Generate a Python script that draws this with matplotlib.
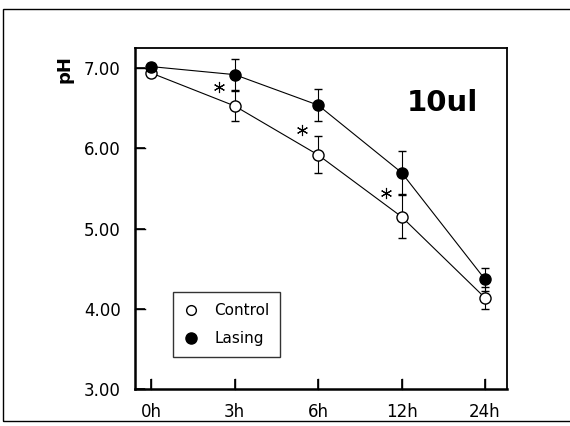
import matplotlib
matplotlib.use("Agg")
import matplotlib.pyplot as plt
from matplotlib.patches import Rectangle
from matplotlib.lines import Line2D
import numpy as np

# data
times = ["0h", "3h", "6h", "12h", "24h"]
control = [6.94, 6.53, 5.92, 5.15, 4.14]
control_err = [0.05, 0.19, 0.23, 0.27, 0.14]
lasing = [7.02, 6.92, 6.54, 5.70, 4.37]
lasing_err = [0.04, 0.19, 0.20, 0.27, 0.14]
star_pos = [0.81, 1.81, 2.81]
star_y = [6.76, 6.23, 5.45]
ph_ticks = [3, 4, 5, 6, 7]
ph_labels = ["3.00", "4.00", "5.00", "6.00", "7.00"]

plt.rcParams['font.family'] = ['DejaVu Sans']

fig = plt.figure(figsize=(5.7, 4.26), dpi=100)
ax = fig.add_axes([0.236, 0.086, 0.653, 0.801])

x = np.arange(len(times))

ax.errorbar(x, control, yerr=control_err, color='black', lw=0.8, capsize=3,
            elinewidth=0.8, marker='o', ms=8, mfc='white', mec='black',
            mew=1.0, zorder=3)
ax.errorbar(x, lasing, yerr=lasing_err, color='black', lw=0.8, capsize=3,
            elinewidth=0.8, marker='o', ms=8, mfc='black', mec='black',
            zorder=3)

# significance marks (6-armed asterisks)
ax.plot(star_pos, star_y, ls='none', marker=(6, 2, 0), ms=8, mew=0.8,
        color='black')

ax.text(0.827, 0.84, '10ul', transform=ax.transAxes, fontsize=21,
        fontweight='bold', ha='center', va='center')

ax.set_xlim(-0.2, 4.26)
ax.set_ylim(3.0, 7.25)
ax.set_xticks(x)
ax.set_xticklabels(times)
ax.set_yticks(ph_ticks)
ax.set_yticklabels(ph_labels)
ax.tick_params(direction='in', length=7, width=1.2, labelsize=12, pad=10)

# inward tick marks drawn explicitly as well
for p in x:
    ax.plot([p, p], [0, 0.03], transform=ax.get_xaxis_transform(),
            color='black', lw=1.0, clip_on=False)
for t in ph_ticks:
    ax.plot([0, 0.027], [t, t], transform=ax.get_yaxis_transform(),
            color='black', lw=1.0, clip_on=False)

for s in ax.spines.values():
    s.set_linewidth(1.3)
ax.spines['left'].set_linewidth(1.8)
ax.spines['bottom'].set_linewidth(1.8)

# legend shows markers only
handles = [Line2D([], [], ls='none', marker='o', ms=7, mfc='white', mec='black'),
           Line2D([], [], ls='none', marker='o', ms=8, mfc='black', mec='black')]
leg = ax.legend(handles, ['Control', 'Lasing'], loc='lower left',
                bbox_to_anchor=(0.103, 0.096), borderaxespad=0, fontsize=11,
                frameon=True, fancybox=False, edgecolor='black',
                handlelength=1.0, handletextpad=1.0, borderpad=0.7,
                labelspacing=0.85)
leg.get_frame().set_linewidth(1.0)

fig.text(0.114, 0.838, 'pH', rotation=90, fontsize=13, fontweight='bold',
         ha='center', va='center')

# outer frame around the figure (right side runs off the edge)
fig.patches.append(Rectangle((0.006, 0.012), 1.1, 0.967, transform=fig.transFigure,
                             fill=False, edgecolor='black', lw=1.0))

fig.savefig("out.png", dpi=100)
